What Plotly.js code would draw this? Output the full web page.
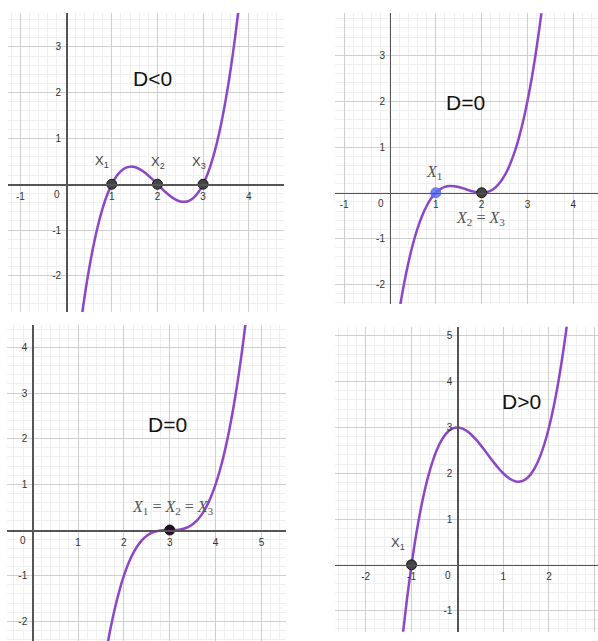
<!DOCTYPE html>
<html>
<head>
<meta charset="utf-8">
<script src="https://cdn.plot.ly/plotly-3.0.1.min.js"></script>
<style>
  body { margin: 0; background: #fff; }
  #plot { width: 598px; height: 641px; }
</style>
</head>
<body>
<div id="plot"></div>
<script>
// curve samples
var x1 = [0.3, 0.4, 0.5, 0.6, 0.7, 0.8, 0.9, 1.0, 1.1, 1.2, 1.3, 1.4, 1.5, 1.6, 1.7, 1.8, 1.9, 2.0,
          2.1, 2.2, 2.3, 2.4, 2.5, 2.6, 2.7, 2.8, 2.9, 3.0, 3.1, 3.2, 3.3, 3.4, 3.5, 3.6, 3.7, 3.8];
var y1 = [-3.213, -2.496, -1.875, -1.344, -0.897, -0.528, -0.231, 0, 0.171, 0.288, 0.357, 0.384, 0.375, 0.336, 0.273, 0.192, 0.099, 0,
          -0.099, -0.192, -0.273, -0.336, -0.375, -0.384, -0.357, -0.288, -0.171, 0, 0.231, 0.528, 0.897, 1.344, 1.875, 2.496, 3.213, 4.032];

var x2 = [0.2, 0.3, 0.4, 0.5, 0.6, 0.7, 0.8, 0.9, 1.0, 1.1, 1.2, 1.3, 1.4, 1.5, 1.6, 1.7, 1.8, 1.9, 2.0,
          2.1, 2.2, 2.3, 2.4, 2.5, 2.6, 2.7, 2.8, 2.9, 3.0, 3.1, 3.2, 3.3, 3.4];
var y2 = [-2.592, -2.023, -1.536, -1.125, -0.784, -0.507, -0.288, -0.121, 0, 0.081, 0.128, 0.147, 0.144, 0.125, 0.096, 0.063, 0.032, 0.009, 0,
          0.011, 0.048, 0.117, 0.224, 0.375, 0.576, 0.833, 1.152, 1.539, 2, 2.541, 3.168, 3.887, 4.704];

var x3 = [1.6, 1.7, 1.8, 1.9, 2.0, 2.1, 2.2, 2.3, 2.4, 2.5, 2.6, 2.7, 2.8, 2.9, 3.0, 3.1, 3.2,
          3.3, 3.4, 3.5, 3.6, 3.7, 3.8, 3.9, 4.0, 4.1, 4.2, 4.3, 4.4, 4.5, 4.6, 4.7];
var y3 = [-2.744, -2.197, -1.728, -1.331, -1, -0.729, -0.512, -0.343, -0.216, -0.125, -0.064, -0.027, -0.008, -0.001, 0, 0.001, 0.008,
          0.027, 0.064, 0.125, 0.216, 0.343, 0.512, 0.729, 1, 1.331, 1.728, 2.197, 2.744, 3.375, 4.096, 4.913];

var x4 = [-1.3, -1.2, -1.1, -1.0, -0.9, -0.8, -0.7, -0.6, -0.5, -0.4, -0.3, -0.2, -0.1, 0, 0.1, 0.2, 0.3, 0.4, 0.5, 0.6,
          0.7, 0.8, 0.9, 1.0, 1.1, 1.2, 1.3, 1.4, 1.5, 1.6, 1.7, 1.8, 1.9, 2.0, 2.1, 2.2, 2.3, 2.4, 2.5];
var y4 = [-2.577, -1.608, -0.751, 0, 0.651, 1.208, 1.677, 2.064, 2.375, 2.616, 2.793, 2.912, 2.979, 3, 2.981, 2.928, 2.847, 2.744, 2.625, 2.496,
          2.363, 2.232, 2.109, 2, 1.911, 1.848, 1.817, 1.824, 1.875, 1.976, 2.133, 2.352, 2.639, 3, 3.441, 3.968, 4.587, 5.304, 6.125];

// roots marked on each panel
var roots1 = [1, 2, 3];
var roots2 = [1, 2];
var roots3 = [3];
var roots4 = [-1];

var titles = ["D<0", "D=0", "D=0", "D>0"];

var purple = "#8d45c9";
var tickFont = {family: "Liberation Sans, Arial, sans-serif", size: 10, color: "#333"};

// panel frames (paper coords) and visible ranges
var panels = [
  {dx: [0.0134, 0.4749], dy: [0.5133, 0.9797], rx: [-1.27, 4.77], ry: [-2.79, 3.74], xt: [-1, 1, 2, 3, 4],    yt: [-2, -1, 1, 2, 3]},
  {dx: [0.5602, 1.0],    dy: [0.5257, 0.9792], rx: [-1.20, 4.54], ry: [-2.43, 3.92], xt: [-1, 1, 2, 3, 4],    yt: [-2, -1, 1, 2, 3]},
  {dx: [0.0117, 0.4778], dy: [0.0,    0.4930], rx: [-0.55, 5.53], ry: [-2.43, 4.49], xt: [1, 2, 3, 4, 5],     yt: [-2, -1, 1, 2, 3, 4]},
  {dx: [0.5602, 1.0],    dy: [0.0145, 0.4903], rx: [-2.67, 3.07], ry: [-1.46, 5.20], xt: [-2, -1, 1, 2, 3],   yt: [-1, 1, 2, 3, 4, 5]}
];

function zeroPos(d, r) {
  return d[0] + (0 - r[0]) / (r[1] - r[0]) * (d[1] - d[0]);
}

var layout = {
  width: 598, height: 641,
  margin: {l: 0, r: 0, t: 0, b: 0},
  paper_bgcolor: "#fff", plot_bgcolor: "#fff",
  showlegend: false,
  annotations: [],
  font: tickFont
};

for (var i = 0; i < panels.length; i += 1) {
  var p = panels[i];
  var n = i == 0 ? "" : (i + 1).toString();
  layout["xaxis" + n] = {
    domain: p.dx, range: p.rx, anchor: "free", position: zeroPos(p.dy, p.ry),
    tickmode: "array", tickvals: p.xt, ticktext: p.xt.map(String),
    showgrid: true, gridcolor: "#cfcfcf", gridwidth: 1,
    minor: {dtick: 0.2, showgrid: true, gridcolor: "#efefef", gridwidth: 1},
    showline: true, linecolor: "#555", linewidth: 1.5,
    zeroline: false, ticks: "", ticklabelstandoff: 2, tickfont: tickFont, fixedrange: true
  };
  layout["yaxis" + n] = {
    domain: p.dy, range: p.ry, anchor: "free", position: zeroPos(p.dx, p.rx),
    tickmode: "array", tickvals: p.yt, ticktext: p.yt.map(String),
    showgrid: true, gridcolor: "#cfcfcf", gridwidth: 1,
    minor: {dtick: 0.2, showgrid: true, gridcolor: "#efefef", gridwidth: 1},
    showline: true, linecolor: "#555", linewidth: 1.5,
    zeroline: false, ticks: "", ticklabelstandoff: 3, tickfont: tickFont, fixedrange: true
  };
  // origin label
  layout.annotations.push({
    xref: "x" + n, yref: "y" + n, x: 0, y: 0, text: "0", showarrow: false,
    xanchor: "right", yanchor: "top", xshift: -4, yshift: -3, font: tickFont
  });
}

var bigFont = {family: "Liberation Sans, Arial, sans-serif", size: 21, color: "#111"};
var labFont = {family: "Liberation Sans, Arial, sans-serif", size: 13, color: "#444"};
var texFont = {family: "Liberation Serif, DejaVu Serif, serif", size: 16, color: "#555"};

var textMarks = [
  {ref: "", x: 1.90, y: 2.32, t: titles[0], f: bigFont},
  {ref: "", x: 0.79, y: 0.49, t: "X<sub>1</sub>", f: labFont},
  {ref: "", x: 2.02, y: 0.47, t: "X<sub>2</sub>", f: labFont},
  {ref: "", x: 2.90, y: 0.47, t: "X<sub>3</sub>", f: labFont},
  {ref: "2", x: 1.64, y: 1.98, t: titles[1], f: bigFont},
  {ref: "2", x: 0.96, y: 0.45, t: "<i>X</i><sub>1</sub>", f: texFont},
  {ref: "2", x: 1.97, y: -0.57, t: "<i>X</i><sub>2</sub> = <i>X</i><sub>3</sub>", f: texFont},
  {ref: "3", x: 2.96, y: 2.32, t: titles[2], f: bigFont},
  {ref: "3", x: 3.07, y: 0.50, t: "<i>X</i><sub>1</sub> = <i>X</i><sub>2</sub> = <i>X</i><sub>3</sub>", f: texFont},
  {ref: "4", x: 1.41, y: 3.56, t: titles[3], f: bigFont},
  {ref: "4", x: -1.29, y: 0.46, t: "X<sub>1</sub>", f: labFont}
];
textMarks.forEach(function (a) {
  layout.annotations.push({
    xref: "x" + a.ref, yref: "y" + a.ref, x: a.x, y: a.y, text: a.t,
    showarrow: false, xanchor: "center", yanchor: "middle", font: a.f
  });
});

function curve(xs, ys, ax) {
  return {x: xs, y: ys, xaxis: "x" + ax, yaxis: "y" + ax, mode: "lines",
          line: {color: purple, width: 2.5, shape: "spline", smoothing: 1}, hoverinfo: "skip"};
}
function dots(xs, ax, fill) {
  return {x: xs, y: xs.map(function () { return 0; }), xaxis: "x" + ax, yaxis: "y" + ax, mode: "markers",
          marker: {size: 10, color: fill, line: {color: "#111", width: 1}}, cliponaxis: false, hoverinfo: "skip"};
}

var data = [
  curve(x1, y1, ""), dots(roots1, "", "#444"),
  curve(x2, y2, "2"), dots([roots2[1]], "2", "#444"),
  {x: [roots2[0]], y: [0], xaxis: "x2", yaxis: "y2", mode: "markers",
   marker: {size: 10, color: "rgba(90,110,245,0.85)", line: {color: "rgba(90,110,245,0.9)", width: 1}}, hoverinfo: "skip"},
  curve(x3, y3, "3"), dots(roots3, "3", "#2a0a2a"),
  curve(x4, y4, "4"), dots(roots4, "4", "#444")
];

Plotly.newPlot("plot", data, layout, {staticPlot: true});
</script>
</body>
</html>
